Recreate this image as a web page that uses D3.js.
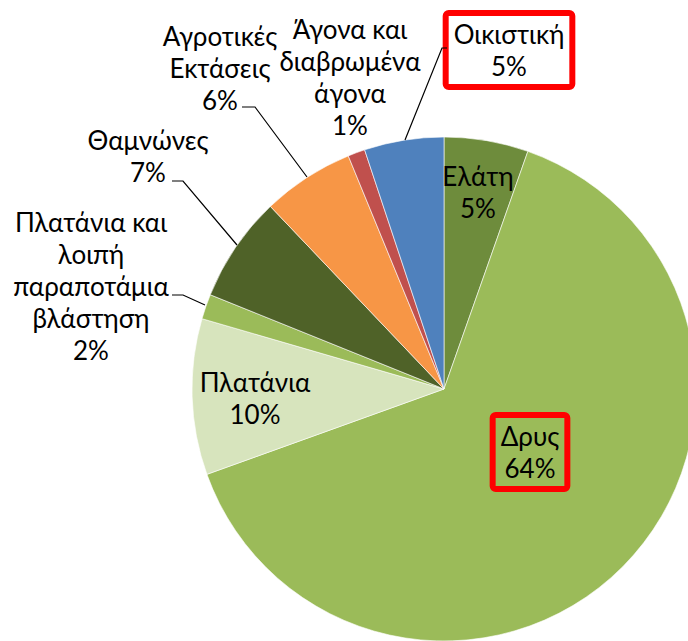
<!DOCTYPE html>
<html><head><meta charset="utf-8">
<script src="https://cdn.jsdelivr.net/npm/d3@7"></script>
<style>html,body{margin:0;padding:0;background:#fff;overflow:hidden}</style>
</head><body><svg id="c" width="688" height="641"></svg>
<script>
// ---- data ----
const categories = ["Ελάτη","Δρυς","Πλατάνια","Πλατάνια και λοιπή παραποτάμια βλάστηση","Θαμνώνες","Αγροτικές Εκτάσεις","Άγονα και διαβρωμένα άγονα","Οικιστική"];
const values = [5.4, 64.1, 10.0, 1.6, 6.8, 5.9, 1.1, 5.1];
const labelLines = [["Ελάτη"],["Δρυς"],["Πλατάνια"],["Πλατάνια και","λοιπή","παραποτάμια","βλάστηση"],["Θαμνώνες"],["Αγροτικές","Εκτάσεις"],["Άγονα και","διαβρωμένα","άγονα"],["Οικιστική"]];
const colors = ["#6E8C3C","#9BBB59","#D7E4BD","#9BBB59","#4F6228","#F79646","#C0504D","#4F81BD"];

// ---- layout (not data) ----
const cx = 444, cy = 389, R = 252;
const lineH = 32;
const layout = [
  {x:478, y:177},
  {x:530, y:437, box:true},
  {x:255, y:383},
  {x:91,  y:223, leader:[[172,295],[183,295],[205,305]]},
  {x:148, y:141, leader:[[172,181],[183,181],[237,245]]},
  {x:220, y:37,  leader:[[242,107],[255,107],[307,177]]},
  {x:350, y:30},
  {x:509, y:35,  box:true, boxWhite:true, leader:[[447,48],[442,48],[405,140]]}
];

const svg = d3.select("#c");
const pie = d3.pie().sort(null).value(d=>d)(values);
const total = d3.sum(values);
const arc = d3.arc().innerRadius(0).outerRadius(R);
const g = svg.append("g").attr("transform",`translate(${cx},${cy})`);
g.selectAll("path").data(pie).join("path")
  .attr("d",arc).attr("fill",(d,i)=>colors[i])
  .attr("stroke","#fff").attr("stroke-width",0.6);

const font = "Lato, 'Open Sans', sans-serif";
const fs = 26;

layout.forEach((L,i)=>{
  if (L.leader) {
    svg.append("path").attr("d", d3.line()(L.leader))
      .attr("fill","none").attr("stroke","#000").attr("stroke-width",1.2);
  }
  const pct = Math.round(values[i]/total*100) + "%";
  const lines = labelLines[i].concat([pct]);
  const t = svg.append("text").attr("font-family",font).attr("font-size",fs)
    .attr("fill","#000").attr("text-anchor","middle");
  lines.forEach((s,k)=>{
    t.append("tspan").attr("x",L.x).attr("y",L.y + k*lineH).attr("dy","0.35em").text(s);
  });
  if (L.box) {
    const bb = t.node().getBBox();
    const padX = 8, padY = 5;
    svg.insert("rect", L.boxWhite ? "text" : null)
      .attr("x",bb.x-padX).attr("y",bb.y-padY)
      .attr("width",bb.width+2*padX).attr("height",bb.height+2*padY)
      .attr("rx",3).attr("fill", L.boxWhite ? "#fff" : "none")
      .attr("stroke","#FF0000").attr("stroke-width",6);
    t.raise();
  }
});
</script></body></html>
